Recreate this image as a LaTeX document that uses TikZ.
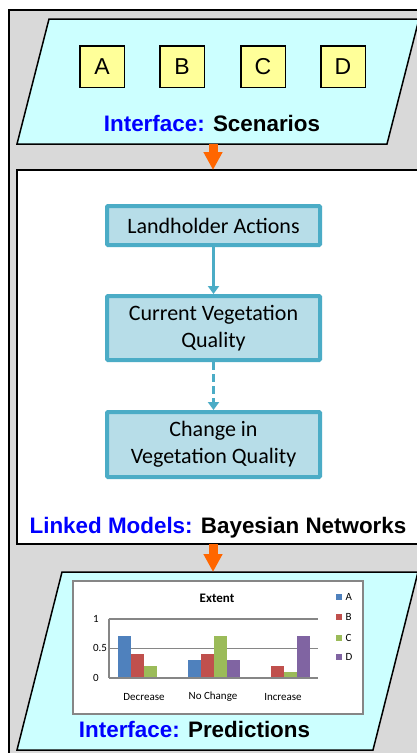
\documentclass[tikz,border=0pt]{standalone}
\usepackage{fontspec}
\setmainfont{Liberation Sans}
\newfontfamily\calib{Carlito}
\usetikzlibrary{arrows.meta}

\definecolor{panelgray}{HTML}{D9D9D9}
\definecolor{iface}{HTML}{CCFFFF}
\definecolor{scenfill}{HTML}{FFFF99}
\definecolor{bnfill}{HTML}{B7DDE8}
\definecolor{bnline}{HTML}{4BACC6}
\definecolor{feedorange}{HTML}{FF6600}
\definecolor{gridgray}{HTML}{868686}
\definecolor{bar0}{HTML}{4F81BD}
\definecolor{bar1}{HTML}{C0504D}
\definecolor{bar2}{HTML}{9BBB59}
\definecolor{bar3}{HTML}{8064A2}

\tikzset{
  frame/.style={draw=black,line width=1.5pt},
  feed/.style={draw=feedorange,line width=9pt,-{Triangle[width=18pt,length=18pt]}},
  title/.style={anchor=base,inner sep=0pt,font=\fontsize{22.4}{27}\selectfont\bfseries},
  bnbox/.style={rectangle,draw=bnline,fill=bnfill,line width=4pt,rounded corners=1pt,
    minimum width=213pt,align=center,font=\calib\fontsize{22}{26.7}\selectfont},
  ticklab/.style={inner sep=0pt,font=\calib\fontsize{11}{13}\selectfont}
}

\begin{document}
\begin{tikzpicture}[x=1pt,y=-1pt]
  \useasboundingbox (0,0) rectangle (417,753);
  \clip (0,0) rectangle (417,753);

  % panels
  \draw[frame,fill=panelgray] (9,10) rectangle (440,770);
  \draw[frame,fill=iface] (49,19) -- (419,19) -- (387,144) -- (17,144) -- cycle;
  \draw[frame,fill=white] (17,170) rectangle (440,544);
  \draw[frame,fill=iface] (62,572) -- (418,572) -- (373,750) -- (17,750) -- cycle;

  \coordinate (scenbot) at (213,144);
  \coordinate (bntop) at (213,170);
  \coordinate (bnbot) at (213,544);
  \coordinate (predtop) at (213,572);

  % scenarios
  \begin{scope}[every node/.style={rectangle,draw=black,line width=1.5pt,fill=scenfill,
      minimum width=44.5pt,minimum height=41.5pt,font=\fontsize{23}{27}\selectfont}]
    \node (A) at (102,66.5) {A};
    \node (B) at (182,66.5) {B};
    \node (C) at (263,66.5) {C};
    \node (D) at (343,66.5) {D};
  \end{scope}
  \node[title] (scenlab) at (212,131.6) {\textcolor{blue}{Interface:} Scenarios};

  % bayesian networks
  \node[bnbox,minimum height=39pt] (actions) at (213.5,225.5) {Landholder Actions};
  \node[bnbox,minimum height=64pt] (current) at (213.5,328) {Current Vegetation\\Quality};
  \node[bnbox,minimum height=65pt] (change) at (213.5,444.5) {Change in\\Vegetation Quality};
  \begin{scope}[every edge/.style={draw=bnline,line width=3.3pt,-{Triangle[width=11pt,length=8pt]}}]
    \path
      (actions.south) edge (current.north)
      (current.south) edge [dash pattern=on 8pt off 4pt] (change.north);
  \end{scope}
  \node[title] (bnlab) at (218,533) {\textcolor{blue}{Linked Models:} Bayesian Networks};

  % predictions chart
  \draw[draw=gridgray,line width=1.8pt,fill=white] (73,581) rectangle (363,714);
  \node[ticklab,font=\calib\bfseries\fontsize{13}{15}\selectfont] (charttitle) at (217,598) {Extent};
  \draw[gridgray,line width=1.6pt] (108.7,618.7) -- (318,618.7)
    (108.7,648.3) -- (318,648.3) (108.7,618.7) -- (108.7,678);
  \foreach \g/\k/\v in {0/0/.7,0/1/.4,0/2/.2,1/0/.3,1/1/.4,1/2/.7,1/3/.3,2/1/.2,2/2/.1,2/3/.7}
    \fill[bar\k] ({118+69.8*\g+13*\k},678) rectangle ++(13,{-59.5*\v});
  \draw[gridgray,line width=1.6pt] (108.7,678) -- (318,678);
  \node[ticklab] (t1) at (96,618.7) {1};
  \node[ticklab] (t05) at (100,648.3) {0.5};
  \node[ticklab] (t0) at (96,678) {0};
  \node[ticklab] (cdec) at (144,697) {Decrease};
  \node[ticklab] (cnoc) at (213,697) {No Change};
  \node[ticklab] (cinc) at (283,697) {Increase};
  \foreach \k/\s/\y in {0/A/597,1/B/617,2/C/638,3/D/657} {
    \fill[bar\k] (336.2,\y-2.8) rectangle ++(5.6,5.6);
    \node[ticklab,anchor=west] (leg\s) at (345.5,\y) {\s};
  }
  \node[title] (predlab) at (194.5,737) {\textcolor{blue}{Interface:} Predictions};

  % flow between panels
  \draw[feed] (scenbot) -- (bntop);
  \draw[feed] (bnbot) -- (predtop);
\end{tikzpicture}
\end{document}
